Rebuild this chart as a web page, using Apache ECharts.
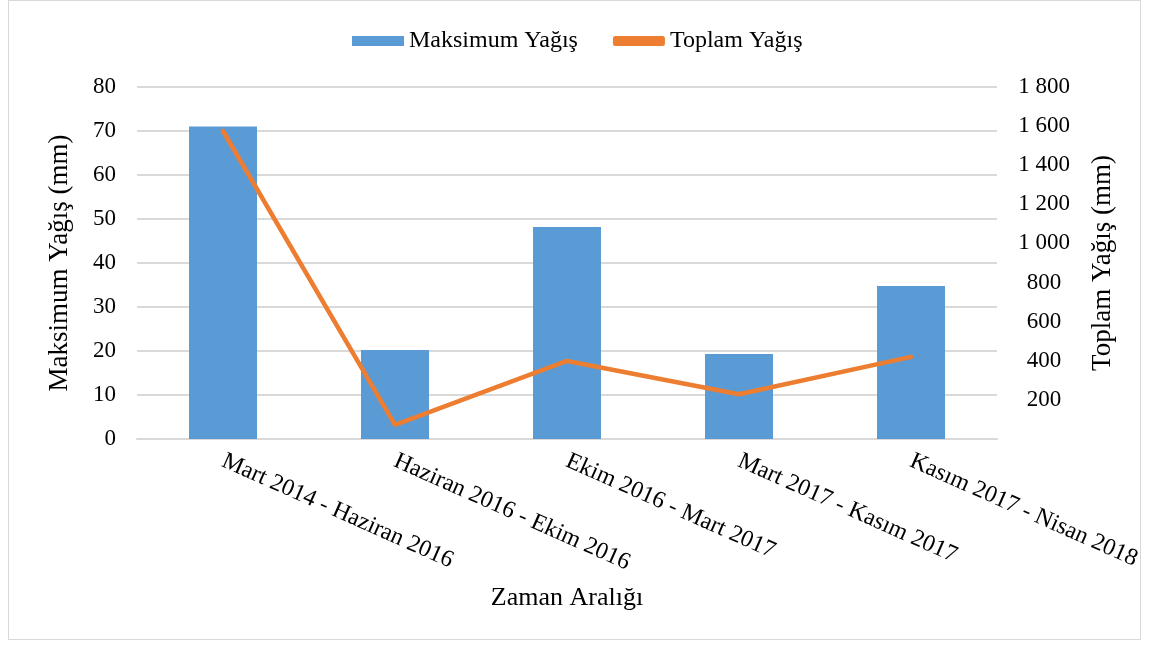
<!DOCTYPE html>
<html>
<head>
<meta charset="utf-8">
<script src="https://cdn.jsdelivr.net/npm/echarts@6/dist/echarts.min.js"></script>
<style>
  html, body { margin: 0; padding: 0; background: #fff; }
  #frame { position: absolute; left: 8px; top: 0; width: 1133px; height: 640px; border: 1px solid #d9d9d9; box-sizing: border-box; }
  #chart { position: absolute; left: 0; top: 0; width: 1149px; height: 647px; }
</style>
</head>
<body>
<div id="frame"></div>
<div id="chart"></div>
<script>
const periods = ['Mart 2014 - Haziran 2016', 'Haziran 2016 - Ekim 2016', 'Ekim 2016 - Mart 2017', 'Mart 2017 - Kasım 2017', 'Kasım 2017 - Nisan 2018']
const maxRain = [71, 20.2, 48.2, 19.3, 34.8]
const totalRain = [1575, 72, 399, 229, 420]

const serif = '"Liberation Serif", "DejaVu Serif", serif'

// "1 800" style thousands grouping, no label for 0
function spaced(v) {
  if (v === 0) return ''
  return String(v).replace(/\B(?=(\d{3})+(?!\d))/g, ' ')
}

const chart = echarts.init(document.getElementById('chart'))
chart.setOption({
  animation: false,
  textStyle: { fontFamily: serif },
  legend: {
    top: 24,
    left: 347,
    itemGap: 35,
    itemWidth: 52,
    itemHeight: 10,
    textStyle: { fontFamily: serif, fontSize: 24, color: '#000' },
    data: [
      { name: 'Maksimum Yağış', icon: 'rect' },
      { name: 'Toplam Yağış', icon: 'roundRect' }
    ]
  },
  grid: { left: 137, right: 152, top: 87, bottom: 208 },
  xAxis: {
    type: 'category',
    data: periods,
    name: 'Zaman Aralığı',
    nameLocation: 'middle',
    nameGap: 146,
    nameTextStyle: { fontFamily: serif, fontSize: 26, color: '#000' },
    axisLine: { lineStyle: { color: '#d9d9d9', width: 2 } },
    axisTick: { show: false },
    axisLabel: { rotate: -24, fontSize: 24, color: '#000', margin: 21, fontFamily: serif }
  },
  yAxis: [
    {
      type: 'value',
      min: 0, max: 80, interval: 10,
      name: 'Maksimum Yağış (mm)',
      nameLocation: 'middle',
      nameGap: 64,
      nameTextStyle: { fontFamily: serif, fontSize: 27, color: '#000' },
      axisLine: { show: false },
      axisTick: { show: false },
      axisLabel: { fontSize: 23, color: '#000', margin: 21, fontFamily: serif },
      splitLine: { lineStyle: { color: '#d9d9d9', width: 2 } }
    },
    {
      type: 'value',
      min: 0, max: 1800, interval: 200,
      name: 'Toplam Yağış (mm)',
      nameLocation: 'middle',
      nameGap: 92,
      nameTextStyle: { fontFamily: serif, fontSize: 27, color: '#000' },
      axisLine: { show: false },
      axisTick: { show: false },
      axisLabel: { fontSize: 23, color: '#000', margin: 47, align: 'center', fontFamily: serif, formatter: spaced },
      splitLine: { show: false }
    }
  ],
  series: [
    {
      name: 'Maksimum Yağış',
      type: 'bar',
      data: maxRain,
      barWidth: 68,
      itemStyle: { color: '#5b9bd5' }
    },
    {
      name: 'Toplam Yağış',
      type: 'line',
      yAxisIndex: 1,
      data: totalRain,
      symbol: 'none',
      lineStyle: { color: '#ed7d31', width: 4.5, cap: 'round' },
      itemStyle: { color: '#ed7d31' }
    }
  ]
})
</script>
</body>
</html>
